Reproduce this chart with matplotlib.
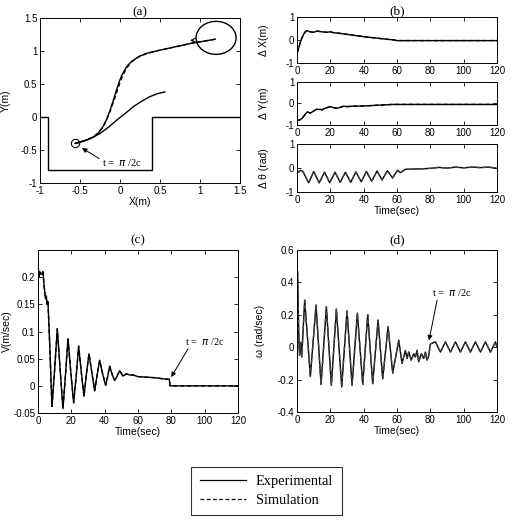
import matplotlib
matplotlib.use('Agg')
import matplotlib.pyplot as plt
from matplotlib.patches import Ellipse
from matplotlib.lines import Line2D
from matplotlib.ticker import FuncFormatter

plt.rcParams['font.family'] = 'sans-serif'
plt.rcParams['font.sans-serif'] = ['Liberation Sans', 'DejaVu Sans']
plt.rcParams['axes.unicode_minus'] = False
plt.rcParams['font.size'] = 7.5
plt.rcParams['xtick.labelsize'] = 7
plt.rcParams['ytick.labelsize'] = 7

# ---- (a) path in the plane ----
wall_x = [-1.0, -0.9, -0.9, 0.4, 0.4, 1.5]
wall_y = [0.0, 0.0, -0.8, -0.8, 0.0, 0.0]
path_x_exp = [-0.56, -0.48, -0.40, -0.33, -0.27, -0.22, -0.18, -0.15, -0.125, -0.09, -0.055, -0.02,
              0.02, 0.08, 0.15, 0.24, 0.33, 0.45, 0.60, 0.75, 0.90, 1.05, 1.19]
path_y_exp = [-0.40, -0.37, -0.34, -0.30, -0.24, -0.16, -0.07, 0.02, 0.10, 0.23, 0.37, 0.50,
              0.63, 0.76, 0.85, 0.92, 0.965, 1.00, 1.04, 1.08, 1.12, 1.15, 1.18]
path_x_sim = [-0.56, -0.45, -0.35, -0.27, -0.21, -0.16, -0.12, -0.085, -0.045, -0.01, 0.03,
              0.08, 0.14, 0.23, 0.33, 0.45, 0.60, 0.75, 0.90, 1.05, 1.19]
path_y_sim = [-0.40, -0.36, -0.31, -0.24, -0.14, -0.02, 0.10, 0.22, 0.36, 0.49, 0.62,
              0.74, 0.83, 0.91, 0.96, 1.00, 1.04, 1.08, 1.12, 1.15, 1.18]
ref_x = [-0.56, -0.46, -0.36, -0.25, -0.14, -0.04, 0.07, 0.17, 0.27, 0.375, 0.47, 0.56]
ref_y = [-0.40, -0.37, -0.32, -0.25, -0.15, -0.045, 0.06, 0.16, 0.24, 0.31, 0.355, 0.38]
goal_xy = (1.2, 1.2)
goal_r = 0.25
start_xy = (-0.56, -0.40)

# ---- (b) errors ----
t_dx = [0, 1, 2, 3, 4, 5, 6, 8, 10, 12, 15, 18, 20, 22, 25, 30, 35, 40, 45, 50, 55, 58, 60, 80, 100, 120]
dx = [-0.57, -0.35, -0.1, 0.1, 0.25, 0.35, 0.40, 0.35, 0.33, 0.38, 0.35, 0.33, 0.35, 0.31, 0.29,
      0.24, 0.19, 0.14, 0.10, 0.06, 0.02, 0.0, -0.03, -0.03, -0.03, -0.03]
t_dy = [0, 2, 3, 4, 6, 7, 8, 10, 12, 14, 15, 17, 18, 20, 22, 24, 26, 28, 30, 34, 40, 45, 50, 57, 60, 120]
dy = [-0.80, -0.75, -0.70, -0.60, -0.40, -0.42, -0.45, -0.35, -0.27, -0.28, -0.30, -0.22, -0.20,
      -0.15, -0.20, -0.23, -0.18, -0.13, -0.15, -0.13, -0.12, -0.10, -0.08, -0.05, -0.05, -0.05]
t_dth = [0, 1, 2, 3.5, 7, 10, 13.3, 16.5, 19.6, 22.8, 25.9, 29, 32.2, 35.3, 38.5, 41.6, 44.8, 48,
         51, 54.2, 57.3, 60.3, 62, 65, 70, 75, 80, 85, 90, 95, 100, 105, 110, 115, 120]
dth = [-0.10, -0.18, -0.10, -0.15, -0.62, -0.15, -0.62, -0.18, -0.62, -0.18, -0.60, -0.18, -0.60,
       -0.17, -0.58, -0.15, -0.55, -0.13, -0.50, -0.12, -0.42, -0.10, -0.20, -0.06, -0.05, -0.04,
       -0.02, 0.02, -0.01, 0.03, 0.0, 0.03, 0.01, 0.03, -0.02]

# ---- (c) linear velocity ----
t_v = [0, 0.5, 1, 2, 3, 3.5, 4.5, 5, 5.5, 6, 7, 8.4, 10, 11.6, 13.3, 15, 16.5, 18, 19.7, 21.4,
       23, 24.4, 26, 27.6, 29, 30.6, 32.3, 34, 35.5, 37, 38.8, 40.6, 42, 43, 44.6, 46, 47.5, 49,
       51, 53, 55, 57, 60, 65, 70, 75, 78.8, 79.2, 80, 120]
v = [0.23, 0.20, 0.21, 0.205, 0.21, 0.19, 0.16, 0.165, 0.15, 0.155, 0.08, -0.038, 0.03, 0.105,
     0.03, -0.042, 0.02, 0.087, 0.025, -0.031, 0.02, 0.073, 0.025, -0.019, 0.02, 0.059, 0.025,
     -0.009, 0.02, 0.047, 0.022, 0.001, 0.02, 0.036, 0.02, 0.01, 0.018, 0.028, 0.018, 0.022, 0.02,
     0.02, 0.017, 0.016, 0.015, 0.013, 0.012, 0.0, 0.0, 0.0]

# ---- (d) angular velocity ----
t_w = [0, 0.3, 1.0, 1.5, 2.2, 2.8, 4.6, 8, 11.4, 14.4, 17.6, 20.6, 23.6, 26.8, 30, 33, 36.2,
       39.4, 42.4, 45.4, 48.6, 51.4, 54.6, 57.4, 61, 63, 65, 66, 67, 68.5, 70, 71, 72, 73, 74.5,
       76, 77, 78, 79, 80, 83, 86, 89, 92, 95, 98, 101, 104, 107, 110, 113, 116, 119, 120]
w = [0.0, 0.47, 0.10, -0.05, 0.03, -0.06, 0.29, -0.18, 0.26, -0.23, 0.25, -0.235, 0.235, -0.245,
     0.225, -0.235, 0.21, -0.23, 0.20, -0.225, 0.167, -0.195, 0.126, -0.16, 0.043, -0.10, -0.02,
     -0.07, -0.03, -0.08, -0.04, -0.06, -0.02, -0.09, -0.04, -0.07, -0.03, -0.08, -0.05, 0.02,
     0.033, -0.03, 0.033, -0.03, 0.033, -0.03, 0.033, -0.03, 0.033, -0.03, 0.033, -0.03, 0.033, 0.0]

time_ticks = [0, 20, 40, 60, 80, 100, 120]
fmt = FuncFormatter(lambda val, pos: '%g' % round(val, 6))
lw = 1.0
serif = 'Liberation Serif'
note = r't =  $\pi$ /2c'


def style(ax):
    ax.tick_params(direction='in', top=True, right=True, length=3, width=0.6, pad=2)
    for s in ax.spines.values():
        s.set_linewidth(0.7)
    ax.xaxis.set_major_formatter(fmt)
    ax.yaxis.set_major_formatter(fmt)


def pointer(ax, tip, tail, text_xy):
    ax.annotate('', xy=tip, xytext=tail,
                arrowprops=dict(arrowstyle='-|>', color='black', lw=0.7,
                                mutation_scale=7, shrinkA=0, shrinkB=1))
    ax.text(text_xy[0], text_xy[1], note, fontsize=7.5, family=serif, va='center')


fig = plt.figure(figsize=(5.13, 5.22), dpi=100)

# (a)
ax_a = fig.add_axes([0.078, 0.6494, 0.390, 0.316])
ax_a.plot(wall_x, wall_y, color='black', lw=lw)
ax_a.plot(ref_x, ref_y, color='black', lw=lw)
ax_a.plot(path_x_exp, path_y_exp, color='black', lw=lw)
ax_a.plot(path_x_sim, path_y_sim, color='black', lw=lw, ls='--', dashes=(3, 2))
ax_a.add_patch(Ellipse(goal_xy, 2 * goal_r, 2 * goal_r, fill=False, color='black', lw=lw))
ax_a.plot([start_xy[0]], [start_xy[1]], 'o', mfc='none', mec='black', ms=6, mew=0.8)
ax_a.annotate('', xy=(0.84, 1.16), xytext=(0.95, 1.165),
              arrowprops=dict(arrowstyle='->', color='black', lw=0.8))
pointer(ax_a, (-0.49, -0.46), (-0.26, -0.63), (-0.23, -0.69))
ax_a.set_xlim(-1, 1.5)
ax_a.set_ylim(-1, 1.5)
ax_a.set_xticks([-1, -0.5, 0, 0.5, 1, 1.5])
ax_a.set_yticks([-1, -0.5, 0, 0.5, 1, 1.5])
ax_a.set_xlabel('X(m)', labelpad=1)
ax_a.set_ylabel('Y(m)')
ax_a.yaxis.set_label_coords(-0.145, 0.5)
ax_a.set_title('(a)', family=serif, fontsize=9.5, pad=2)
style(ax_a)

# (b)
ax_b1 = fig.add_axes([0.579, 0.8793, 0.390, 0.0885])
ax_b1.plot(t_dx, dx, color='black', lw=lw)
ax_b1.plot(t_dx, dx, color='black', lw=lw, ls='--', dashes=(3, 2))
ax_b1.set_ylabel('Δ X(m)')
ax_b1.set_title('(b)', family=serif, fontsize=9.5, pad=2)

ax_b2 = fig.add_axes([0.579, 0.7605, 0.390, 0.0830])
ax_b2.plot(t_dy, dy, color='black', lw=lw)
ax_b2.plot(t_dy, dy, color='black', lw=lw, ls='--', dashes=(3, 2))
ax_b2.set_ylabel('Δ Y(m)')

ax_b3 = fig.add_axes([0.579, 0.6322, 0.390, 0.0925])
ax_b3.plot(t_dth, dth, color='black', lw=lw)
ax_b3.plot(t_dth, dth, color='#444444', lw=lw, ls='--', dashes=(3, 2))
ax_b3.set_ylabel('Δ θ (rad)')
ax_b3.set_xlabel('Time(sec)', labelpad=1)

for ax in (ax_b1, ax_b2, ax_b3):
    ax.set_xlim(0, 120)
    ax.set_ylim(-1, 1)
    ax.set_xticks(time_ticks)
    ax.set_yticks([-1, 0, 1])
    ax.yaxis.set_label_coords(-0.14, 0.5)
    style(ax)

# (c)
ax_c = fig.add_axes([0.074, 0.2088, 0.390, 0.3122])
ax_c.plot(t_v, v, color='black', lw=lw)
ax_c.plot(t_v, v, color='black', lw=lw, ls='--', dashes=(3, 2))
pointer(ax_c, (79.5, 0.014), (90, 0.068), (88, 0.081))
ax_c.set_xlim(0, 120)
ax_c.set_ylim(-0.05, 0.25)
ax_c.set_xticks(time_ticks)
ax_c.set_yticks([-0.05, 0, 0.05, 0.1, 0.15, 0.2])
ax_c.set_xlabel('Time(sec)', labelpad=1)
ax_c.set_ylabel('V(m/sec)')
ax_c.yaxis.set_label_coords(-0.13, 0.5)
ax_c.set_title('(c)', family=serif, fontsize=9.5, pad=5)
style(ax_c)

# (d)
ax_d = fig.add_axes([0.579, 0.2107, 0.390, 0.3104])
ax_d.plot(t_w, w, color='black', lw=lw)
ax_d.plot(t_w, w, color='#444444', lw=lw, ls='--', dashes=(3, 2))
pointer(ax_d, (79, 0.034), (84, 0.29), (81, 0.335))
ax_d.set_xlim(0, 120)
ax_d.set_ylim(-0.4, 0.6)
ax_d.set_xticks(time_ticks)
ax_d.set_yticks([-0.4, -0.2, 0, 0.2, 0.4, 0.6])
ax_d.set_xlabel('Time(sec)', labelpad=1)
ax_d.set_ylabel('ω (rad/sec)')
ax_d.yaxis.set_label_coords(-0.16, 0.5)
ax_d.set_title('(d)', family=serif, fontsize=9.5, pad=5)
style(ax_d)

handles = [Line2D([], [], color='black', lw=0.9),
           Line2D([], [], color='black', lw=0.9, ls='--', dashes=(3, 2))]
leg = fig.legend(handles, ['Experimental', 'Simulation'], loc='center',
                 bbox_to_anchor=(0.5195, 0.0594), prop={'family': serif, 'size': 10.4},
                 fancybox=False, edgecolor='black', handlelength=3.2,
                 handletextpad=0.7, borderpad=0.6, labelspacing=0.35,
                 borderaxespad=0)
leg.get_frame().set_linewidth(0.8)

fig.savefig('out.png', dpi=100)
